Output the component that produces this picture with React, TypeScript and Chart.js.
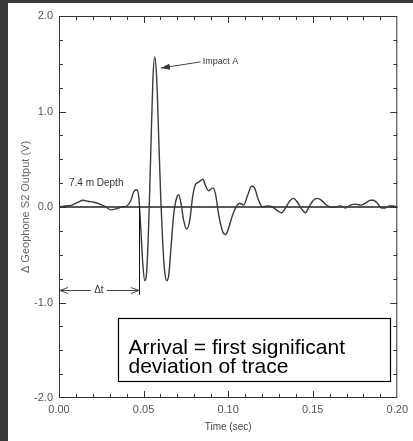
import React, { useEffect, useRef } from "react";
import { Chart, registerables } from "chart.js";

Chart.register(...registerables);

// ---- data (time in seconds, geophone output in volts) ----
const timeSec = [
  0.0, 0.0035, 0.0077, 0.0112, 0.0142, 0.0171, 0.0206, 0.0242, 0.0277, 0.0307,
  0.0336, 0.0372, 0.0401, 0.0425, 0.0442, 0.046, 0.0472, 0.0484, 0.0496, 0.0507,
  0.0519, 0.0531, 0.0543, 0.0555, 0.0566, 0.0578, 0.059, 0.0602, 0.0614, 0.0625,
  0.0637, 0.0649, 0.0661, 0.0678, 0.0696, 0.0708, 0.072, 0.0737, 0.0755, 0.0773,
  0.0791, 0.0808, 0.0826, 0.085, 0.0867, 0.0885, 0.0909, 0.0926, 0.0944, 0.0968,
  0.0985, 0.1003, 0.1027, 0.105, 0.1068, 0.1091, 0.1115, 0.1139, 0.1156, 0.118,
  0.1204, 0.1233, 0.1263, 0.1292, 0.1316, 0.1339, 0.1363, 0.1386, 0.141, 0.1434,
  0.1457, 0.1481, 0.1504, 0.1528, 0.1552, 0.1575, 0.1605, 0.1634, 0.1664, 0.1693,
  0.1723, 0.1752, 0.1782, 0.1811, 0.1841, 0.1858, 0.1882, 0.1906, 0.1929, 0.1953,
  0.1976, 0.2,
];
const voltage = [
  0.0, 0.01, 0.02, 0.05, 0.07, 0.06, 0.05, 0.03, 0.0, -0.03,
  -0.02, 0.0, 0.01, 0.07, 0.16, 0.18, 0.1, -0.24, -0.61, -0.77,
  -0.66, -0.14, 0.6, 1.33, 1.57, 1.33, 0.7, 0.07, -0.4, -0.68,
  -0.77, -0.71, -0.45, -0.08, 0.1, 0.13, 0.05, -0.14, -0.23, -0.14,
  0.12, 0.24, 0.26, 0.29, 0.22, 0.17, 0.2, 0.13, -0.08, -0.26,
  -0.29, -0.22, -0.08, 0.01, 0.04, 0.02, 0.12, 0.22, 0.2, 0.07,
  0.0, 0.01, 0.0, -0.04, -0.06, -0.01, 0.06, 0.09, 0.05, -0.02,
  -0.06, 0.01, 0.07, 0.09, 0.07, 0.03, 0.0, 0.0, 0.01, -0.01,
  0.02, 0.03, 0.02, 0.04, 0.07, 0.07, 0.04, -0.01, -0.01, 0.01,
  0.01, 0.0,
];

const xMin = 0;
const xMax = 0.2;
const xMajorStep = 0.05;
const xMinorStep = 0.01;
const yMin = -2;
const yMax = 2;
const yMajorStep = 1;
const yMinorStep = 0.25;

const xTitle = "Time (sec)";
const yTitle = "\u0394 Geophone S2 Output (V)";

// annotations (in data units)
const impactLabel = "Impact A";
const impactTip = { t: 0.0602, v: 1.455 };
const impactTail = { t: 0.0838, v: 1.52 };
const depthLabel = "7.4 m Depth";
const depthPos = { t: 0.0059, v: 0.25 };
const dtLabel = "\u0394t";
const arrivalTime = 0.0472;
const dtLevel = -0.87;
const arrivalLineBottom = -0.92;
const boxLines = ["Arrival = first significant", "deviation of trace"];
const boxT = [0.0348, 0.1959];
const boxV = [-1.162, -1.822];

const FONT = "'Liberation Sans', Arial, Helvetica, sans-serif";

const decorPlugin = {
  id: "decor",
  beforeDatasetsDraw(chart: any) {
    const { ctx, chartArea: a, scales } = chart;
    const y0 = scales.y.getPixelForValue(0);
    ctx.save();
    ctx.strokeStyle = "#222";
    ctx.lineWidth = 1.3;
    ctx.beginPath();
    ctx.moveTo(a.left, y0);
    ctx.lineTo(a.right, y0);
    ctx.stroke();
    ctx.restore();
  },
  afterDraw(chart: any) {
    const { ctx, chartArea: a, scales } = chart;
    const xs = scales.x;
    const ys = scales.y;
    const px = (t: number) => xs.getPixelForValue(t);
    const py = (v: number) => ys.getPixelForValue(v);
    ctx.save();
    // frame
    ctx.strokeStyle = "#333";
    ctx.lineWidth = 1;
    ctx.strokeRect(a.left + 0.5, a.top + 0.5, a.right - a.left - 1, a.bottom - a.top - 1);
    // ticks
    ctx.beginPath();
    const nx = Math.round((xMax - xMin) / xMinorStep);
    for (let i = 1; i < nx; i++) {
      const t = xMin + i * xMinorStep;
      const major = i % Math.round(xMajorStep / xMinorStep) === 0;
      const len = major ? 7 : 4;
      const x = Math.round(px(t)) + 0.5;
      ctx.moveTo(x, a.bottom);
      ctx.lineTo(x, a.bottom - len);
      ctx.moveTo(x, a.top);
      ctx.lineTo(x, a.top + len);
    }
    const ny = Math.round((yMax - yMin) / yMinorStep);
    for (let i = 1; i < ny; i++) {
      const v = yMin + i * yMinorStep;
      const major = i % Math.round(yMajorStep / yMinorStep) === 0;
      const len = major ? 7 : 4;
      const y = Math.round(py(v)) + 0.5;
      ctx.moveTo(a.left, y);
      ctx.lineTo(a.left + len, y);
      ctx.moveTo(a.right, y);
      ctx.lineTo(a.right - len, y);
    }
    ctx.stroke();

    // Impact A arrow
    ctx.fillStyle = "#333";
    ctx.strokeStyle = "#444";
    ctx.lineWidth = 1;
    const tx = px(impactTail.t), ty = py(impactTail.v);
    const hx = px(impactTip.t), hy = py(impactTip.v);
    ctx.beginPath();
    ctx.moveTo(tx, ty);
    ctx.lineTo(hx, hy);
    ctx.stroke();
    const ang = Math.atan2(hy - ty, hx - tx);
    ctx.beginPath();
    ctx.moveTo(hx, hy);
    ctx.lineTo(hx - 9 * Math.cos(ang) + 3 * Math.sin(ang), hy - 9 * Math.sin(ang) - 3 * Math.cos(ang));
    ctx.lineTo(hx - 9 * Math.cos(ang) - 3 * Math.sin(ang), hy - 9 * Math.sin(ang) + 3 * Math.cos(ang));
    ctx.closePath();
    ctx.fill();
    ctx.font = `9px ${FONT}`;
    ctx.textBaseline = "middle";
    ctx.textAlign = "left";
    ctx.fillText(impactLabel, tx + 2, ty);

    // depth label
    ctx.font = `10px ${FONT}`;
    ctx.fillText(depthLabel, px(depthPos.t), py(depthPos.v));

    // Δt arrow
    const ay = Math.round(py(dtLevel)) + 0.5;
    const ax0 = px(0);
    const ax1 = px(arrivalTime);
    const mid = (ax0 + ax1) / 2;
    ctx.beginPath();
    ctx.moveTo(ax0 + 1, ay);
    ctx.lineTo(mid - 8, ay);
    ctx.moveTo(mid + 8, ay);
    ctx.lineTo(ax1, ay);
    ctx.moveTo(ax0 + 9, ay - 3);
    ctx.lineTo(ax0 + 1, ay);
    ctx.lineTo(ax0 + 9, ay + 3);
    ctx.moveTo(ax1 - 8, ay - 3);
    ctx.lineTo(ax1, ay);
    ctx.lineTo(ax1 - 8, ay + 3);
    ctx.stroke();
    ctx.textAlign = "center";
    ctx.font = `10px ${FONT}`;
    ctx.fillText(dtLabel, mid, ay);
    // arrival vertical line
    ctx.strokeStyle = "#111";
    ctx.beginPath();
    const vx = Math.round(ax1) + 0.5;
    ctx.moveTo(vx, py(0));
    ctx.lineTo(vx, py(arrivalLineBottom));
    ctx.stroke();

    // arrival box
    const bx0 = Math.round(px(boxT[0])) + 0.5;
    const bx1 = Math.round(px(boxT[1])) + 0.5;
    const by0 = Math.round(py(boxV[0])) + 0.5;
    const by1 = Math.round(py(boxV[1])) + 0.5;
    ctx.fillStyle = "#fff";
    ctx.fillRect(bx0, by0, bx1 - bx0, by1 - by0);
    ctx.strokeStyle = "#000";
    ctx.lineWidth = 1.2;
    ctx.strokeRect(bx0, by0, bx1 - bx0, by1 - by0);
    ctx.fillStyle = "#000";
    ctx.font = `21px ${FONT}`;
    ctx.textAlign = "left";
    ctx.textBaseline = "alphabetic";
    ctx.fillText(boxLines[0], bx0 + 10, by0 + 35);
    ctx.fillText(boxLines[1], bx0 + 10, by0 + 54);
    ctx.restore();
  },
};

export default function App() {
  const ref = useRef<HTMLCanvasElement | null>(null);
  useEffect(() => {
    if (!ref.current) return;
    const points = timeSec.map((t, i) => ({ x: t, y: voltage[i] }));
    const chart = new Chart(ref.current, {
      type: "line",
      data: {
        datasets: [
          {
            data: points,
            borderColor: "#3a3a3a",
            borderWidth: 1.4,
            pointRadius: 0,
            fill: false,
            cubicInterpolationMode: "monotone",
          },
        ],
      },
      options: {
        animation: false,
        responsive: false,
        events: [],
        layout: { padding: { top: 13, right: 15, left: 0, bottom: 0 } },
        plugins: { legend: { display: false }, tooltip: { enabled: false } },
        scales: {
          x: {
            type: "linear",
            min: xMin,
            max: xMax,
            grid: { display: false, drawTicks: false },
            border: { display: false },
            ticks: {
              stepSize: xMajorStep,
              padding: 5,
              color: "#555",
              font: { family: FONT, size: 11 },
              maxRotation: 0,
              callback: (v: any) => Number(v).toFixed(2),
            },
            title: {
              display: true,
              text: xTitle,
              color: "#444",
              font: { family: FONT, size: 10 },
              padding: { top: 0, bottom: 8 },
            },
            afterFit: (s: any) => {
              s.height = 43;
            },
          },
          y: {
            type: "linear",
            min: yMin,
            max: yMax,
            grid: { display: false, drawTicks: false },
            border: { display: false },
            ticks: {
              stepSize: yMajorStep,
              padding: 6,
              color: "#555",
              font: { family: FONT, size: 11 },
              callback: (v: any) => Number(v).toFixed(1),
            },
            title: {
              display: true,
              text: yTitle,
              color: "#666",
              font: { family: FONT, size: 11 },
              padding: { top: 11, bottom: 0 },
            },
            afterFit: (s: any) => {
              s.width = 51;
            },
          },
        },
      },
      plugins: [decorPlugin],
    } as any);
    return () => chart.destroy();
  }, []);

  return (
    <div
      style={{
        position: "fixed",
        left: 0,
        top: 0,
        width: 413,
        height: 441,
        background: "#3a3a3a",
        overflow: "hidden",
      }}
    >
      <div style={{ position: "absolute", left: 8, top: 3, width: 405, height: 438, background: "#fff" }}>
        <canvas ref={ref} width={405} height={438} style={{ display: "block" }} />
      </div>
    </div>
  );
}
